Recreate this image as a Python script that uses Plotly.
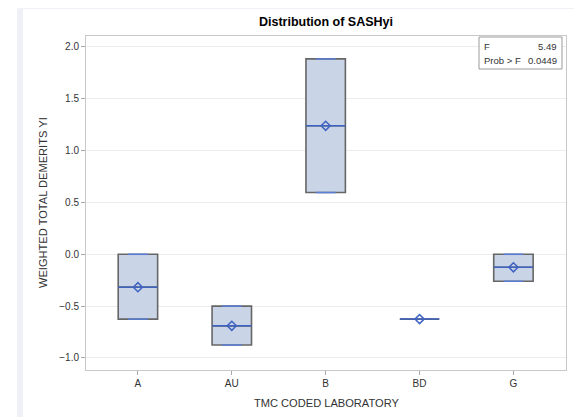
import plotly.graph_objects as go

labs = ["A", "AU", "B", "BD", "G"]
q1 = [-0.625, -0.875, 0.596, -0.625, -0.26]
q3 = [0.0, -0.5, 1.885, -0.625, 0.0]
med = [-0.317, -0.69, 1.24, -0.625, -0.125]
mean = [-0.317, -0.69, 1.24, -0.625, -0.125]
y_ticks = [-1.0, -0.5, 0.0, 0.5, 1.0, 1.5, 2.0]
f_value = "5.49"
p_value = "0.0449"

xs = list(range(len(labs)))
W = 0.42
FILL = "#c9d5e7"
EDGE = "#666666"
BLUE = "#3f63c0"
FONT = "Liberation Sans, Arial, sans-serif"
OFF = 8  # page body margin
FW, FH = 582 - OFF, 417 - OFF
L, R, T, B = 86 - OFF, 16, 36 - OFF, 47
PW, PH = FW - L - R, FH - T - B

fig = go.Figure()
fig.add_trace(go.Box(
    x=xs, q1=q1, median=med, q3=q3, lowerfence=q1, upperfence=q3,
    width=W, whiskerwidth=0.5, fillcolor=FILL,
    line=dict(color=EDGE, width=1.6), boxpoints=False, showlegend=False,
    hoverinfo="skip",
))

# median lines
mx, my = [], []
for x, m in zip(xs, med):
    mx += [x - W / 2, x + W / 2, None]
    my += [m, m, None]
fig.add_trace(go.Scatter(x=mx, y=my, mode="lines",
                         line=dict(color=BLUE, width=1.5), showlegend=False, hoverinfo="skip"))
# whisker caps (blue)
cx, cy = [], []
for x, a, b in zip(xs, q1, q3):
    if a != b:
        for v in (a, b):
            cx += [x - W / 4, x + W / 4, None]
            cy += [v, v, None]
fig.add_trace(go.Scatter(x=cx, y=cy, mode="lines",
                         line=dict(color="#5a7fd6", width=1.5), showlegend=False, hoverinfo="skip"))
# means
fig.add_trace(go.Scatter(x=xs, y=mean, mode="markers",
                         marker=dict(symbol="diamond-open", size=7, color=BLUE, line=dict(width=1.5)),
                         showlegend=False, hoverinfo="skip"))

fig.update_layout(
    width=FW, height=FH,
    margin=dict(l=L, r=R, t=T, b=B, autoexpand=False),
    paper_bgcolor="white", plot_bgcolor="white",
    font=dict(family=FONT, color="#333333", size=10),
    title=dict(text="<b>Distribution of SASHyi</b>", x=(L + FW - R) / 2 / FW, xanchor="center",
               y=1 - (22 - OFF) / FH, yanchor="middle", font=dict(size=12.5, color="#000000", family=FONT)),
    xaxis=dict(range=[-0.553, 4.56], tickvals=xs, ticktext=labs, showgrid=False,
               ticks="outside", ticklen=4, tickcolor="#aaaaaa", showline=True, linecolor="#c8c8c8",
               mirror=True, zeroline=False, tickfont=dict(size=10, color="#333333"), automargin=False),
    yaxis=dict(range=[-1.116, 2.106], tickvals=y_ticks, tickformat=".1f", showgrid=True,
               gridcolor="#ececec", ticks="outside", ticklen=4, tickcolor="#aaaaaa",
               showline=True, linecolor="#c8c8c8", mirror=True, zeroline=False,
               tickfont=dict(size=10, color="#333333"), automargin=False),
)

# axis titles (positions given in window pixels)
def px_x(x):
    return (x - OFF - L) / PW

def px_y(y):
    return 1 - (y - OFF - T) / PH

fig.add_annotation(xref="paper", yref="paper", x=0.5, y=px_y(403),
                   text="TMC CODED LABORATORY", showarrow=False, xanchor="center", yanchor="middle",
                   font=dict(size=11.1, color="#333333"))
fig.add_annotation(xref="paper", yref="paper", x=px_x(43), y=px_y(203),
                   text="WEIGHTED TOTAL DEMERITS YI", showarrow=False, textangle=-90,
                   xanchor="center", yanchor="middle", font=dict(size=11.1, color="#333333"))

# outer page frame
fig.add_shape(type="rect", xref="paper", yref="paper",
              x0=px_x(20), x1=px_x(577), y0=px_y(425), y1=px_y(6),
              line=dict(color="#eff1f6", width=6), layer="below")

# inset statistics box
bx0, bx1 = px_x(479), px_x(562)
by0, by1 = px_y(69), px_y(37)
fig.add_shape(type="rect", xref="paper", yref="paper", x0=bx0, x1=bx1, y0=by0, y1=by1,
              line=dict(color="#9a9a9a", width=1), fillcolor="white")
fsz = 9.5
fig.add_annotation(xref="paper", yref="paper", x=px_x(482), y=px_y(46), text="F",
                   showarrow=False, xanchor="left", yanchor="middle", font=dict(size=fsz, color="#333333"))
fig.add_annotation(xref="paper", yref="paper", x=px_x(559), y=px_y(46), text=f_value,
                   showarrow=False, xanchor="right", yanchor="middle", font=dict(size=fsz, color="#333333"))
fig.add_annotation(xref="paper", yref="paper", x=px_x(482), y=px_y(60), text="Prob > F",
                   showarrow=False, xanchor="left", yanchor="middle", font=dict(size=fsz, color="#333333"))
fig.add_annotation(xref="paper", yref="paper", x=px_x(559), y=px_y(60), text=p_value,
                   showarrow=False, xanchor="right", yanchor="middle", font=dict(size=fsz, color="#333333"))

fig.write_html("out.html")
